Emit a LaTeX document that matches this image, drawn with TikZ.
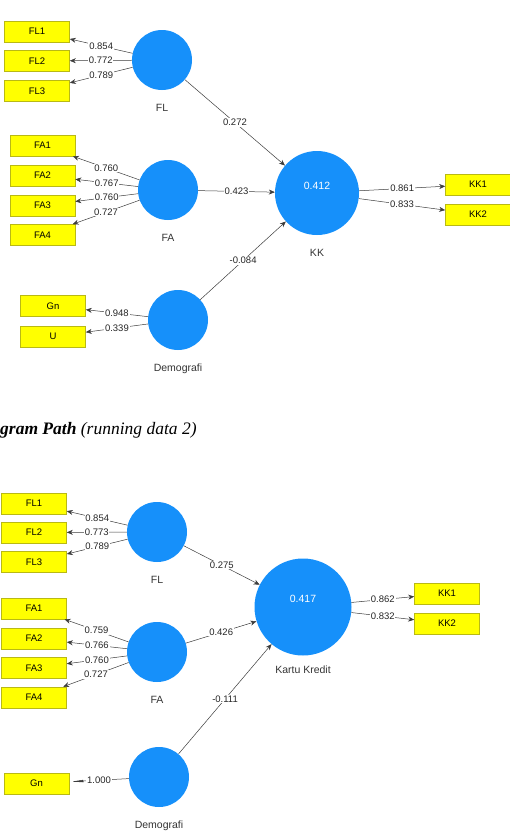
\documentclass[tikz,border=0pt]{standalone}
\usepackage{fontspec}
\setmainfont{Liberation Serif}
\setsansfont{Liberation Sans}
\usetikzlibrary{arrows.meta}
\definecolor{lvblue}{RGB}{22,144,250}
\definecolor{mvyellow}{RGB}{255,255,0}
\definecolor{mvedge}{RGB}{185,185,20}
\definecolor{pathgray}{RGB}{60,60,60}

\begin{document}
\begin{tikzpicture}
  [x=1pt,y=-1pt,
   every node/.style={font=\sffamily\fontsize{9.5}{11}\selectfont},
   every label/.style={font=\sffamily\fontsize{10.5}{12}\selectfont,text=black!80,yshift=-10.5pt},
   lv/.style={circle,fill=lvblue,inner sep=0pt,minimum size=60pt,label distance=0pt},
   mv/.style={rectangle,fill=mvyellow,draw=mvedge,line width=0.6pt,minimum width=65pt,minimum height=21pt,inner sep=0pt},
   coef/.style={fill=white,inner sep=0.8pt,text=black!85},
   link/.style={draw=pathgray,line width=0.5pt,-{Stealth[length=6pt,width=5pt]}},
   rsq/.style={text=white,yshift=10.5pt}]
  \useasboundingbox (0,0) rectangle (510,831);
  % running data 1
  \node[mv] (tFL1) at (37,31.5) {FL1};
  \node[mv] (tFL2) at (37,61) {FL2};
  \node[mv] (tFL3) at (37,91) {FL3};
  \node[mv] (tFA1) at (42.5,145.5) {FA1};
  \node[mv] (tFA2) at (42.5,175.5) {FA2};
  \node[mv] (tFA3) at (42.5,205.5) {FA3};
  \node[mv] (tFA4) at (42.5,235) {FA4};
  \node[mv] (tGn) at (53,306) {Gn};
  \node[mv] (tU) at (53,336.5) {U};
  \node[mv] (tKK1) at (478,184.5) {KK1};
  \node[mv] (tKK2) at (478,214.5) {KK2};
  \node[lv,label=below:FL] (tFL) at (162,60) {};
  \node[lv,label=below:FA] (tFA) at (168,190) {};
  \node[lv,label=below:Demografi] (tDem) at (178,320) {};
  \node[lv,minimum size=84pt,label=below:KK,label={[rsq,yshift=7pt]center:0.412}] (tKK) at (317,193) {};
  \foreach \from/\to/\val in {tFL/tFL1/0.854,tFL/tFL2/0.772,tFL/tFL3/0.789,
      tFA/tFA1/0.760,tFA/tFA2/0.767,tFA/tFA3/0.760,tFA/tFA4/0.727,
      tDem/tGn/0.948,tDem/tU/0.339,tKK/tKK1/0.861,tKK/tKK2/0.833,
      tFL/tKK/0.272,tFA/tKK/0.423,tDem/tKK/-0.084}
    \draw[link] (\from) -- node[coef] {\val} (\to);

  \node[font=\rmfamily\fontsize{17.5}{20}\selectfont,anchor=base west,inner sep=0pt] (cap) at (0,434)
    {\textbf{\textit{gram Path}} \textit{(running data 2)}};

  % running data 2
  \node[mv] (bFL1) at (34,503.5) {FL1};
  \node[mv] (bFL2) at (34,532.5) {FL2};
  \node[mv] (bFL3) at (34,562) {FL3};
  \node[mv] (bFA1) at (34,608.5) {FA1};
  \node[mv] (bFA2) at (34,638.5) {FA2};
  \node[mv] (bFA3) at (34,668) {FA3};
  \node[mv] (bFA4) at (34,697.5) {FA4};
  \node[mv] (bGn) at (36.5,783.5) {Gn};
  \node[mv] (bKK1) at (447,593.5) {KK1};
  \node[mv] (bKK2) at (447,623.5) {KK2};
  \node[lv,label=below:FL] (bFL) at (157,532) {};
  \node[lv,label=below:FA] (bFA) at (157,652) {};
  \node[lv,label=below:Demografi] (bDem) at (159,777) {};
  \node[lv,minimum size=97pt,label={[yshift=3.5pt]below:Kartu Kredit},label={[rsq,yshift=8pt]center:0.417}] (bKK) at (303,607) {};
  \foreach \from/\to/\val in {bFL/bFL1/0.854,bFL/bFL2/0.773,bFL/bFL3/0.789,
      bFA/bFA1/0.759,bFA/bFA2/0.766,bFA/bFA3/0.760,bFA/bFA4/0.727,
      bKK/bKK1/0.862,bKK/bKK2/0.832,
      bFL/bKK/0.275,bFA/bKK/0.426,bDem/bKK/-0.111}
    \draw[link] (\from) -- node[coef] {\val} (\to);
  \draw[link,-{Latex[length=14pt,width=2.5pt]}] (bDem) -- node[coef] {1.000} (bGn);
\end{tikzpicture}
\end{document}
